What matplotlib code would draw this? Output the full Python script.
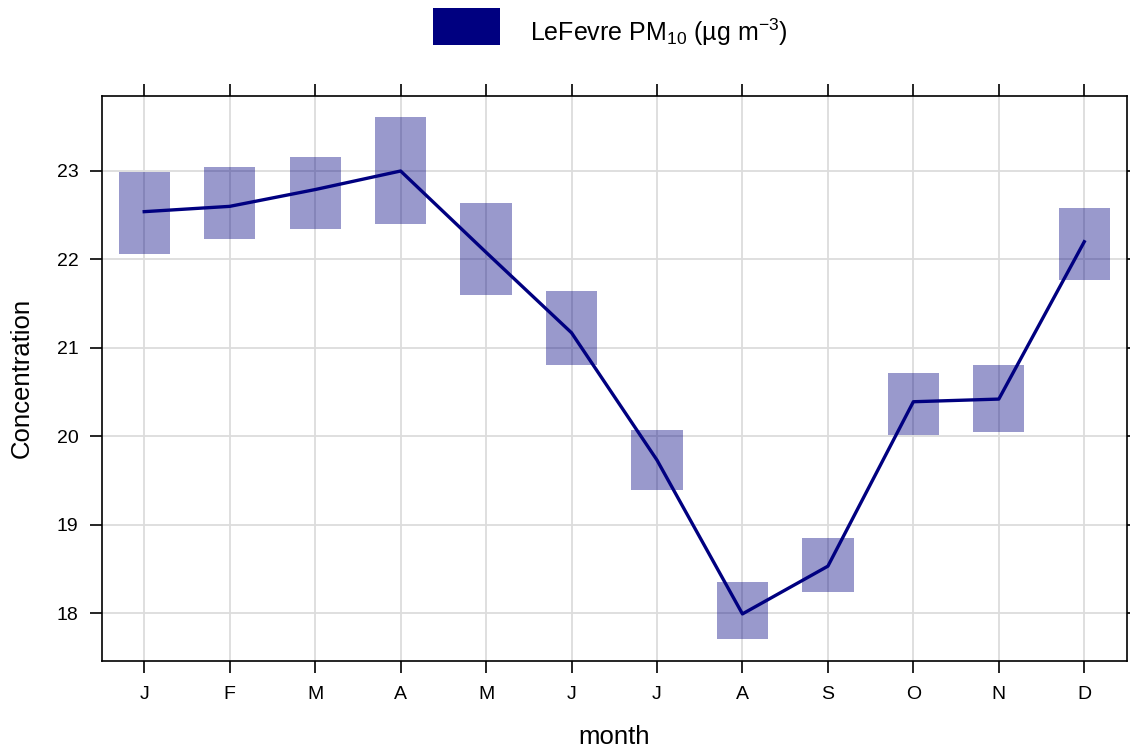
import matplotlib.pyplot as plt
import numpy as np
from matplotlib.patches import Rectangle

plt.rcParams['font.family'] = ['Liberation Sans', 'DejaVu Sans']
plt.rcParams['mathtext.fontset'] = 'custom'
plt.rcParams['mathtext.rm'] = 'Liberation Sans'

months = ["J", "F", "M", "A", "M", "J", "J", "A", "S", "O", "N", "D"]
mean = [22.54, 22.60, 22.79, 23.00, 22.08, 21.17, 19.73, 17.99, 18.53, 20.39, 20.42, 22.20]
lower = [22.06, 22.23, 22.34, 22.40, 21.60, 20.81, 19.39, 17.71, 18.24, 20.01, 20.05, 21.77]
upper = [22.99, 23.05, 23.16, 23.61, 22.64, 21.64, 20.07, 18.35, 18.85, 20.71, 20.81, 22.58]

col = "#000080"
x = np.arange(1, 13)

fig = plt.figure(figsize=(11.3, 7.51), dpi=100)
ax = fig.add_axes([101.5 / 1130, 1 - 660.5 / 751, 1025.5 / 1130, 565 / 751])

# intervalli di confidenza come rettangoli
for xi, lo, hi in zip(x, lower, upper):
    ax.add_patch(Rectangle((xi - 0.3, lo), 0.6, hi - lo, facecolor=col,
                           alpha=0.4, edgecolor="none", zorder=2))
ax.plot(x, mean, color=col, lw=2.4, zorder=3)

ax.set_xlim(0.5, 12.5)
ax.set_ylim(17.463, 23.854)
ax.set_xticks(x)
ax.set_xticklabels(months)
ax.set_yticks([18, 19, 20, 21, 22, 23])
ax.grid(True, color="#DCDCDC", lw=1.3, zorder=0)
ax.set_axisbelow(True)
ax.tick_params(direction="out", length=8.6, width=1.2, labelsize=14,
               top=True, right=True, labeltop=False, labelright=False)
ax.tick_params(axis="x", pad=10)
ax.tick_params(axis="y", pad=8)
for s in ax.spines.values():
    s.set_linewidth(1.2)
ax.set_xlabel("month", fontsize=18.5)
ax.set_ylabel("Concentration", fontsize=18.5)
ax.xaxis.set_label_coords(0.5, (660.5 - 737) / 565)
ax.xaxis.label.set_va("center")
ax.yaxis.set_label_coords((22 - 101.5) / 1025.5, 0.5)
ax.yaxis.label.set_va("center")

# legenda in alto
fig.patches.append(Rectangle((433 / 1130, 1 - 45 / 751), 67 / 1130, 37 / 751,
                             transform=fig.transFigure, facecolor=col, edgecolor="none"))
fig.text(530 / 1130, 1 - 32 / 751, "LeFevre PM$_{10}$ (µg m$^{\u2212 3}$)",
         fontsize=18, va="center", ha="left")

fig.savefig("out.png", dpi=100)
